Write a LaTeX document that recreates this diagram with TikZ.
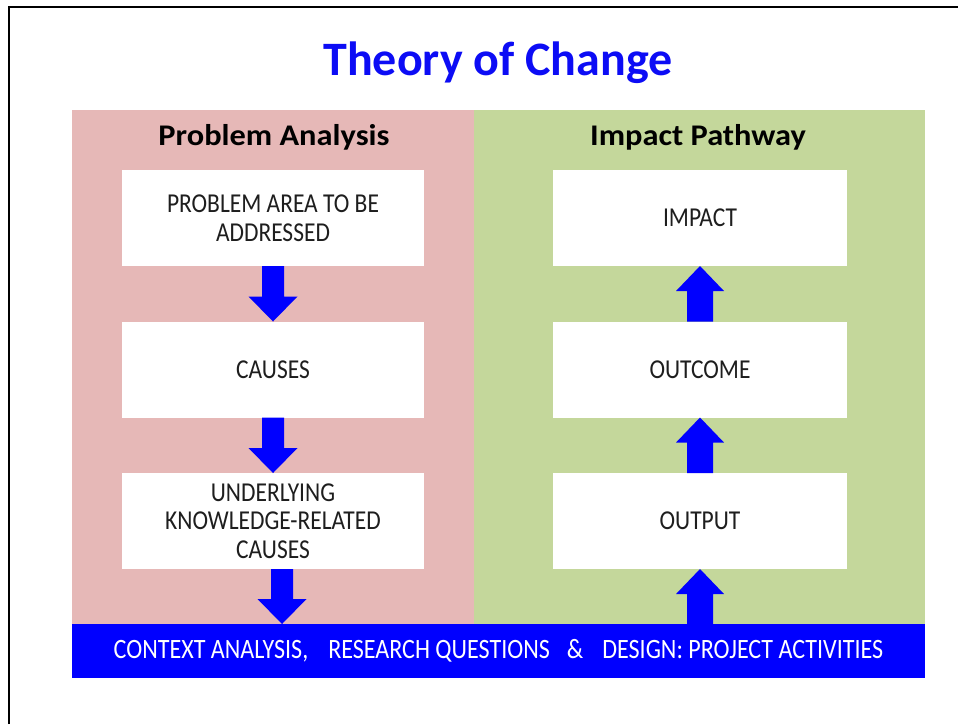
\documentclass[tikz,border=0pt]{standalone}
\usepackage{fontspec}
\setmainfont{Carlito}
\newfontfamily\narrowfont{Carlito}[FakeStretch=0.86]
\newfontfamily\wideheadfont{Carlito}[FakeStretch=1.08]
\usetikzlibrary{calc}
\definecolor{pinkbg}{RGB}{230,184,183}
\definecolor{greenbg}{RGB}{196,215,155}
\definecolor{arrowblue}{RGB}{0,0,255}
\definecolor{titleblue}{RGB}{12,12,245}
\definecolor{textdark}{RGB}{30,30,30}
\newcommand\blockdown[3]{%
  \fill[arrowblue] let \p1=(#1.south), \p2=(#2.north) in
    (\x1+#3-11pt,\y1) -- (\x1+#3+11pt,\y1) -- (\x1+#3+11pt,\y2+25pt)
    -- (\x1+#3+24.5pt,\y2+25pt) -- (\x1+#3,\y2) -- (\x1+#3-24.5pt,\y2+25pt)
    -- (\x1+#3-11pt,\y2+25pt) -- cycle;}
\newcommand\blockup[2]{%
  \fill[arrowblue] let \p1=(#1.north), \p2=(#2.south) in
    (\x2-13pt,\y1) -- (\x2+13pt,\y1) -- (\x2+13pt,\y2-25pt)
    -- (\x2+24pt,\y2-25pt) -- (\x2,\y2) -- (\x2-24pt,\y2-25pt)
    -- (\x2-13pt,\y2-25pt) -- cycle;}
\begin{document}
\begin{tikzpicture}[x=1pt,y=-1pt,
  panel/.style={inner sep=0pt, outer sep=0pt, anchor=north west},
  stage/.style={fill=white, minimum height=96pt, inner sep=0pt, outer sep=0pt,
    align=center, text=textdark, font=\narrowfont\fontsize{27.3}{28.5}\selectfont},
  leftstage/.style={stage, minimum width=302pt},
  rightstage/.style={stage, minimum width=294pt},
  heading/.style={anchor=base, text=black, font=\wideheadfont\bfseries\fontsize{30}{33}\selectfont},
  titletext/.style={anchor=base, text=titleblue, font=\bfseries\fontsize{48}{50}\selectfont},
  bartext/.style={panel, fill=arrowblue, minimum width=853pt, minimum height=54pt,
    text=white, font=\narrowfont\fontsize{28}{30}\selectfont}
]
\useasboundingbox (0,0) rectangle (958,724);
\fill[white] (0,0) rectangle (958,724);
\draw[line width=2pt] (9,724) -- (9,7) -- (958,7);

\node[titletext] (title) at (498,75) {Theory of Change};

\node[panel, fill=pinkbg, minimum width=402pt, minimum height=514pt] (pink) at (72,110) {};
\node[panel, fill=greenbg, minimum width=451pt, minimum height=514pt] (green) at (474,110) {};

\node[heading] (pa) at (274,145) {Problem Analysis};
\node[heading] (ip) at (698,145) {Impact Pathway};

\node[leftstage] (problem) at (273,218) {PROBLEM AREA TO BE\\ADDRESSED};
\node[leftstage] (causes) at (273,369.5) {CAUSES};
\node[leftstage] (underlying) at (273,521) {UNDERLYING\\KNOWLEDGE-RELATED\\CAUSES};

\node[rightstage] (impact) at (700,218) {IMPACT};
\node[rightstage] (outcome) at (700,369.5) {OUTCOME};
\node[rightstage] (output) at (700,521) {OUTPUT};

\node[bartext] (bar) at (72,624) {CONTEXT ANALYSIS,\hspace{20pt}RESEARCH QUESTIONS\hspace{17pt}\&\hspace{19pt}DESIGN: PROJECT ACTIVITIES};

\blockdown{problem}{causes}{0pt}
\blockdown{causes}{underlying}{0pt}
\blockdown{underlying}{bar}{9pt}
\blockup{outcome}{impact}
\blockup{output}{outcome}
\blockup{bar}{output}
\end{tikzpicture}
\end{document}
